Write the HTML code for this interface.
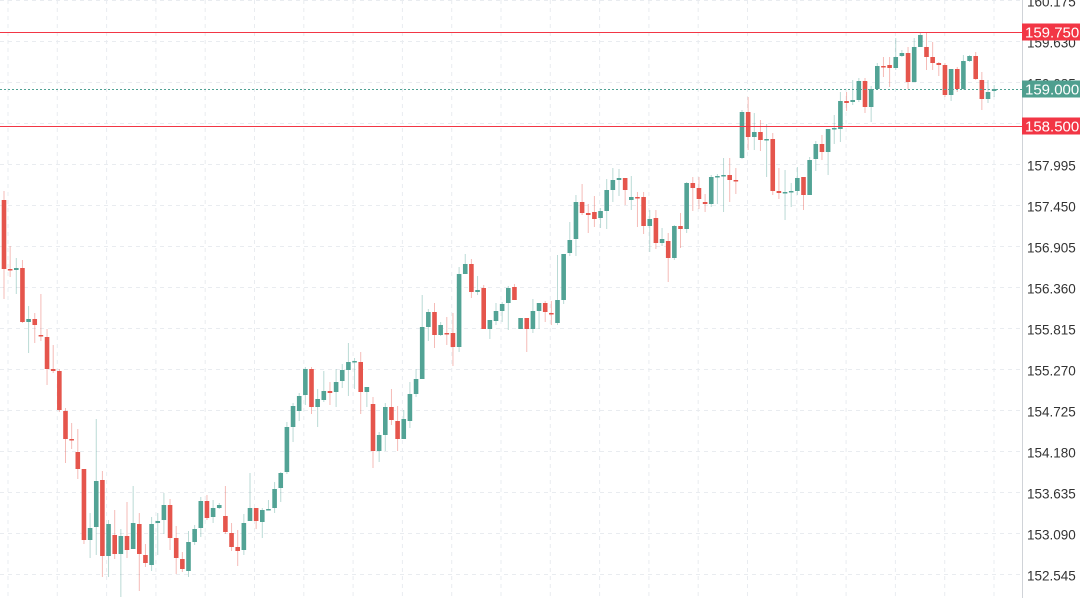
<!DOCTYPE html>
<html><head><meta charset="utf-8"><style>
html,body{margin:0;padding:0;background:#fff;width:1080px;height:598px;overflow:hidden}
svg{display:block}
text{font-family:"Liberation Sans",sans-serif;font-size:13.5px}
</style></head><body>
<svg id="c" width="1080" height="598" xmlns="http://www.w3.org/2000/svg"></svg>
<script>
var D=`r 200,269,191,299
r 269,270,246,277
g 270,268,258,294
r 268,322,260,323
g 322,319,306,353
r 319,325,313,343
r 335,336,294,341
r 337,369,329,385
r 369,371,345,373
r 371,410,369,412
r 411,439,408,463
r 439,440,423,449
r 452,469,429,479
r 469,540,469,544
g 540,528,513,558
g 527,481,419,555
r 480,556,471,577
g 556,524,520,577
r 535,554,510,559
g 554,536,529,597
r 536,550,502,558
g 549,523,486,549
r 524,554,513,591
r 555,563,544,567
g 565,524,517,571
g 523,521,513,555
g 520,505,493,534
r 505,538,499,550
r 538,558,526,574
r 559,569,552,572
g 571,542,531,577
g 542,529,525,545
g 528,501,497,537
r 501,518,495,520
g 517,508,500,523
g 508,505,503,509
r 516,532,486,534
r 533,547,523,551
r 547,551,530,566
g 550,523,514,555
g 521,508,473,521
r 508,521,508,529
g 522,510,508,538
g 510,509,500,510
g 508,489,482,513
g 488,473,472,502
g 472,427,422,474
g 427,406,403,442
g 411,396,393,421
g 395,369,367,405
r 369,407,367,414
g 407,399,389,427
g 400,391,371,402
r 391,393,382,405
g 392,382,369,407
g 381,370,364,388
g 370,362,343,396
g 362,361,358,389
r 362,392,352,414
g 392,387,387,407
r 404,451,397,468
g 451,435,432,462
g 435,407,403,451
r 407,420,389,425
r 421,439,406,451
g 439,419,410,439
g 421,394,382,428
g 394,379,369,397
g 379,327,295,379
g 327,312,309,341
r 312,335,303,348
g 335,325,322,336
r 333,334,317,345
r 333,347,313,366
g 347,274,267,352
g 274,264,254,274
r 264,292,259,298
g 292,290,276,295
r 288,329,285,329
g 329,320,320,339
g 321,311,303,325
g 311,304,302,322
g 303,288,286,330
r 287,300,284,300
g 329,318,318,329
r 318,329,318,352
g 329,311,299,333
g 311,303,303,329
r 303,312,301,322
r 313,314,301,325
g 323,300,255,325
g 300,254,254,304
g 253,240,222,256
g 239,202,195,256
r 202,213,184,215
r 213,215,204,233
r 212,219,196,227
g 218,211,208,228
g 211,190,179,229
g 190,180,168,202
g 180,178,169,196
r 178,190,178,205
g 200,197,176,210
r 197,198,192,227
r 197,226,192,234
g 226,219,210,252
r 218,243,210,249
g 243,239,228,246
r 241,258,233,282
g 258,226,225,260
r 226,229,213,248
g 229,183,182,233
r 183,188,177,211
r 188,199,177,209
r 202,204,194,212
g 204,177,175,207
g 177,176,174,204
g 176,175,158,212
r 175,180,158,202
r 180,181,168,194
g 158,112,110,159
r 112,137,97,150
g 137,132,113,150
r 132,140,120,151
g 140,139,124,177
r 139,191,133,195
r 191,193,168,199
g 193,192,170,220
g 192,191,183,207
g 191,178,167,195
r 177,195,177,210
g 195,160,157,195
g 159,144,141,171
r 144,152,135,160
g 152,129,129,175
g 129,128,115,144
g 129,101,92,142
r 101,103,92,111
g 102,100,80,105
g 100,81,78,102
r 81,107,78,113
g 107,89,86,122
g 89,66,63,90
r 66,67,57,77
r 65,68,57,87
g 68,57,38,70
g 56,53,50,57
r 53,82,47,89
g 82,47,38,82
g 47,35,33,47
r 47,57,33,70
r 57,63,42,70
r 63,65,62,76
r 65,95,63,97
g 95,69,69,101
r 69,89,67,92
g 89,61,55,90
g 61,56,55,62
r 56,79,52,80
r 80,99,72,110
g 99,92,80,103
g 91,89,85,97`;
var G='#52a395',R='#e5554c',RL='#f23645';
var s='';
for(var k=0;k<15;k++){var y=k*41+0.5;s+='<line x1="0" x2="1022" y1="'+y+'" y2="'+y+'" stroke="#e9ecf0" stroke-dasharray="4,4"/>';}
for(var x=8;x<1022;x+=49.3){s+='<line x1="'+(x.toFixed(1))+'" x2="'+(x.toFixed(1))+'" y1="0" y2="598" stroke="#e9ecf0" stroke-dasharray="4,4"/>';}
D.split('\n').forEach(function(l,i){
 var p=l.trim().split(' ');var c=p[0]=='g'?G:R;var v=p[1].split(',').map(Number);
 var cx=4+6.15*i;var top=Math.min(v[0],v[1]),h=Math.max(1.5,Math.abs(v[1]-v[0]));
 s+='<line x1="'+cx+'" x2="'+cx+'" y1="'+v[2]+'" y2="'+v[3]+'" stroke="'+c+'" stroke-opacity="0.4" stroke-width="1"/>';
 s+='<rect x="'+(cx-2.3)+'" y="'+top+'" width="4.6" height="'+h+'" fill="'+c+'"/>';
});
s+='<line x1="0" x2="1022" y1="32.5" y2="32.5" stroke="'+RL+'" stroke-width="1"/>';
s+='<line x1="0" x2="1022" y1="126.5" y2="126.5" stroke="'+RL+'" stroke-width="1"/>';
s+='<line x1="0" x2="1022" y1="89.5" y2="89.5" stroke="'+G+'" stroke-dasharray="2,2"/>';
s+='<line x1="1022.5" x2="1022.5" y1="0" y2="598" stroke="#d0d3d8"/>';
var labels=['160.175','159.630','159.085','158.540','157.995','157.450','156.905','156.360','155.815','155.270','154.725','154.180','153.635','153.090','152.545'];
labels.forEach(function(t,k){s+='<text x="1027" y="'+(k*41+6.5)+'" fill="#333">'+t+'</text>';});
function badge(y,c,t){s+='<rect x="1022" y="'+(y-8.5)+'" width="58" height="17" fill="'+c+'"/><text x="1025" y="'+(y+5.5)+'" fill="#fff" style="font-size:15px">'+t+'</text>';}
badge(32,RL,'159.750');badge(89,'#4f9f8f','159.000');badge(126,RL,'158.500');
document.getElementById('c').innerHTML=s;
</script>
</body></html>
